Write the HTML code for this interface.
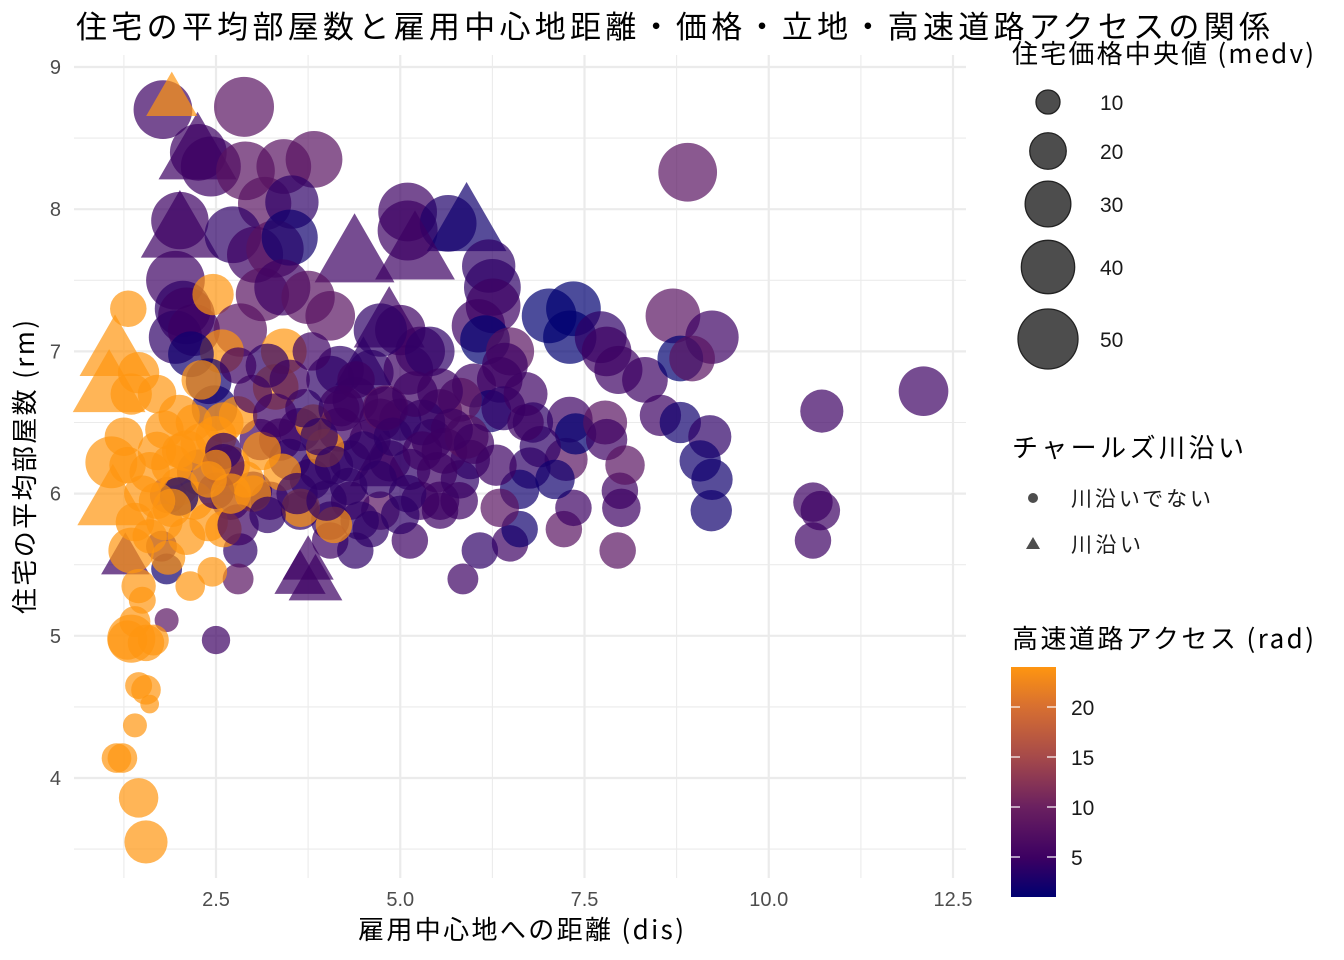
<!DOCTYPE html>
<html><head><meta charset="utf-8"><style>
body{margin:0;background:#fff;}
svg{display:block;font-family:"Liberation Sans","Noto Sans CJK JP",sans-serif;}
.cjk{font-family:"Noto Sans CJK JP","Liberation Sans",sans-serif;}
</style></head><body>
<svg id="chart" width="1344" height="960" viewBox="0 0 1344 960">
<g id="grid"></g>
<g id="marks"></g>
<g id="axes"></g>
<text class="cjk" x="76" y="38" font-size="31" textLength="1194" fill="#000">住宅の平均部屋数と雇用中心地距離・価格・立地・高速道路アクセスの関係</text>
<text class="cjk" x="521" y="939" font-size="26" text-anchor="middle" textLength="326" fill="#000">雇用中心地への距離 (dis)</text>
<text class="cjk" transform="translate(34,467) rotate(-90)" font-size="26" text-anchor="middle" textLength="294" fill="#000">住宅の平均部屋数 (rm)</text>
<g id="legend">
<text class="cjk" x="1012" y="63" font-size="26" textLength="302" fill="#000">住宅価格中央値 (medv)</text>
<text class="cjk" x="1012" y="457" font-size="26" textLength="232" fill="#000">チャールズ川沿い</text>
<circle cx="1033" cy="498" r="5" fill="#4d4d4d"/>
<text class="cjk" x="1071" y="506" font-size="21" textLength="140" fill="#1a1a1a">川沿いでない</text>
<polygon points="1033,537 1040,549 1026,549" fill="#4d4d4d"/>
<text class="cjk" x="1071" y="552" font-size="21" textLength="70" fill="#1a1a1a">川沿い</text>
<text class="cjk" x="1012" y="648" font-size="26" textLength="302" fill="#000">高速道路アクセス (rad)</text>
<defs><linearGradient id="cbar" x1="0" y1="1" x2="0" y2="0">
<stop offset="0" stop-color="#000070"/><stop offset="0.17" stop-color="#3c0062"/><stop offset="0.39" stop-color="#6a2060"/><stop offset="0.61" stop-color="#a64a4a"/><stop offset="0.83" stop-color="#d87030"/><stop offset="1" stop-color="#ff9510"/>
</linearGradient></defs>
<rect x="1011" y="667" width="45" height="230" fill="url(#cbar)"/>
<g id="cbticks"></g>
</g>
</svg>
<script>
const xTicks=[2.5,5.0,7.5,10.0,12.5];
const xTickLabels=["2.5","5.0","7.5","10.0","12.5"];
const yTicks=[4,5,6,7,8,9];
const sizeLegendValues=[10,20,30,40,50];
const colorTicks=[5,10,15,20];
// points: dis, rm, medv, rad, chas
const dis=[1.90,1.78,2.88,2.25,2.26,2.43,2.90,3.42,3.83,3.16,3.53,2.01,2.01,2.73,3.03,3.30,3.50,4.38,5.10,5.10,5.65,5.90,5.20,6.20,6.25,1.95,2.05,2.10,1.95,2.20,2.46,1.31,1.13,1.05,2.83,3.13,3.40,3.75,4.05,3.42,3.31,2.58,2.16,2.40,2.48,2.28,4.85,4.60,7.02,7.35,7.30,7.72,7.80,7.96,8.32,8.70,9.23,8.80,8.96,8.53,8.80,9.20,9.07,9.23,9.22,7.98,8.00,7.95,8.90,12.10,10.72,10.60,10.70,10.60,7.30,7.25,7.38,7.78,7.80,8.05,7.22,7.35,6.90,6.76,6.62,6.49,6.62,6.08,5.85,6.35,6.26,6.06,6.15,6.49,6.42,6.35,6.00,6.22,5.81,5.54,5.43,5.27,5.11,5.00,5.40,4.73,5.54,4.05,4.18,4.39,4.18,3.91,3.78,4.32,4.59,4.86,5.13,5.27,4.73,5.54,5.81,5.95,5.00,4.73,3.64,3.37,3.10,3.50,3.23,3.64,4.05,4.32,4.45,5.13,5.54,4.05,4.39,3.64,3.85,3.75,4.73,3.00,2.70,2.83,2.80,2.50,1.83,1.83,1.76,1.27,1.85,1.55,1.45,1.15,1.23,1.40,1.60,1.55,1.45,1.30,1.35,1.55,1.65,1.40,1.50,1.35,1.10,1.08,1.50,1.70,1.90,2.10,2.30,2.50,2.70,2.90,2.00,2.20,2.40,2.60,1.80,1.60,1.45,1.85,2.45,2.15,3.12,3.40,3.65,4.10,3.82,3.98,1.25,1.35,1.45,1.70,2.30,2.00,2.60,1.80,2.80,3.00,1.30,2.50,2.00,2.80,4.80,5.30,5.60,6.40,6.70,4.50,4.20,3.20,2.60,5.90,6.80,7.10,
3.7,3.9,4.1,4.3,4.5,4.7,4.9,5.1,5.3,5.5,5.7,4.2,4.4,4.0,3.6,3.3,3.0,2.8,2.6,3.2,4.6,5.0,5.8,6.0,6.3,4.8,5.2,3.5,3.8,6.7,
1.6,1.9,2.2,2.4,2.1,1.7,2.7,1.4,2.5,2.0,1.75,1.55];
const rm=[8.78,8.70,8.72,8.40,8.40,8.30,8.27,8.30,8.35,8.04,8.05,7.92,7.85,7.82,7.68,7.72,7.80,7.68,7.98,7.85,7.90,7.90,7.70,7.60,7.45,7.50,7.30,7.25,7.10,7.15,7.40,7.30,7.00,6.75,7.15,7.40,7.45,7.38,7.25,7.00,6.75,7.00,6.98,6.79,6.60,6.15,7.20,6.85,7.25,7.30,7.10,7.10,7.00,6.87,6.80,7.25,7.10,6.95,6.95,6.55,6.50,6.40,6.23,6.10,5.88,6.02,5.90,5.60,8.26,6.72,6.58,5.94,5.88,5.67,6.52,6.24,6.42,6.50,6.38,6.20,5.75,5.90,6.33,6.18,6.03,5.65,5.75,5.60,5.40,5.90,7.32,7.18,7.08,7.00,6.90,6.80,6.76,6.58,6.66,6.58,6.38,7.00,6.87,7.15,7.00,7.15,6.72,6.80,6.87,6.66,6.45,6.17,6.10,6.23,6.38,6.23,6.17,5.95,5.88,5.95,6.10,6.24,6.52,6.52,6.45,6.38,6.38,6.24,5.95,5.88,5.81,5.95,5.81,5.67,5.88,5.67,5.60,5.42,5.38,5.52,6.20,6.02,5.95,5.60,5.40,4.97,5.47,5.11,5.63,5.55,5.99,3.55,3.86,4.14,4.14,4.37,4.52,4.62,4.65,4.97,4.98,4.95,4.97,5.10,5.25,5.60,5.95,6.22,6.00,6.30,6.20,6.30,6.35,6.40,6.20,6.10,6.05,5.95,5.80,5.75,5.80,5.70,5.35,5.55,5.45,5.35,6.30,6.15,5.90,5.78,6.50,6.32,6.40,6.70,6.85,6.70,6.80,6.55,6.50,6.45,6.55,6.00,6.20,6.02,5.98,5.78,6.60,6.50,6.30,6.60,6.70,6.90,6.60,6.90,6.20,6.40,6.50,6.10,
6.6,6.4,6.2,6.05,6.3,6.1,6.4,6.0,6.3,6.15,6.45,6.6,6.8,5.95,6.0,6.55,6.7,6.9,6.3,5.85,5.75,5.85,5.95,6.35,6.2,6.6,6.7,6.8,7.0,6.5,
6.15,5.9,6.5,6.1,5.7,5.95,6.0,5.8,6.2,6.3,5.3,5.05];
const medv=[22,48,50,48,45,50,48,42,45,40,40,46,48,45,44,46,44,50,48,50,45,50,50,40,45,48,44,45,40,38,25,20,40,42,40,40,44,40,35,30,30,28,30,30,30,30,40,30,42,42,40,38,35,33,30,42,40,30,30,25,25,27,25,25,25,20,22,20,48,35,27,23,23,20,30,27,25,28,25,23,20,20,25,25,23,20,20,20,15,22,42,40,35,33,30,30,28,26,28,28,25,35,35,36,35,40,30,33,33,30,28,25,25,25,25,25,25,22,22,22,22,23,26,26,27,26,25,25,22,22,22,22,22,20,20,20,20,22,24,22,30,22,22,18,15,13,15,10,15,20,20,27,23,14,14,10,7,14,12,23,33,20,15,15,12,30,40,38,20,22,25,25,25,25,22,20,22,22,22,20,20,18,18,18,14,14,22,21,22,20,20,22,22,25,25,22,23,25,24,22,22,20,20,20,22,25,30,30,30,28,28,26,30,28,26,28,
24,23,22,21,22,21,23,21,22,21,23,24,26,20,21,24,25,28,22,20,20,20,20,22,21,24,25,27,30,24,
22,20,24,22,20,20,21,20,24,22,15,18];
const rad=[24,5,8,5,5,5,8,8,8,8,4,5,5,4,5,8,2,5,5,5,3,2,5,4,4,5,4,5,4,5,24,24,24,24,8,8,5,8,8,24,24,24,2,2,2,4,5,4,1,1,1,4,5,5,5,8,5,1,8,5,2,4,2,2,2,5,5,8,8,5,5,5,5,5,5,8,1,8,5,8,8,5,4,4,2,5,2,4,5,8,5,5,1,8,5,5,5,2,8,8,5,5,5,5,4,4,5,4,4,4,5,4,4,4,5,5,4,5,8,5,4,4,4,5,4,5,5,4,5,4,4,5,4,5,5,5,4,5,5,5,5,4,5,4,8,5,2,8,4,5,8,24,24,24,24,24,24,24,24,24,24,24,24,24,24,24,24,24,24,24,24,24,24,24,24,24,24,24,24,24,24,24,24,24,24,24,24,24,24,24,24,24,24,24,24,24,24,24,24,24,24,24,24,4,2,5,8,4,5,4,5,4,5,4,5,8,4,2,
4,4,4,4,4,4,4,4,5,5,5,5,5,4,4,5,5,5,4,4,4,4,5,5,5,5,5,5,5,5,
24,24,24,24,24,24,24,24,24,24,24,24];
const chas=[1,0,0,1,0,0,0,0,0,0,0,0,1,0,0,0,0,1,0,0,0,1,1,0,0,0,0,0,0,0,0,0,1,1,0,0,0,0,0,0,0,0,0,0,0,0,1,0,0,0,0,0,0,0,0,0,0,0,0,0,0,0,0,0,0,0,0,0,0,0,0,0,0,0,0,0,0,0,0,0,0,0,0,0,0,0,0,0,0,0,0,0,0,0,0,0,0,0,0,0,0,0,0,0,0,0,0,0,0,0,0,0,0,0,0,0,0,0,0,0,0,0,0,0,0,0,0,0,0,0,0,0,0,0,0,0,0,1,1,1,1,0,0,0,0,0,0,0,0,1,0,0,0,0,0,0,0,0,0,0,0,0,0,0,0,0,1,0,0,0,0,0,0,0,0,0,0,0,0,0,0,0,0,0,0,0,0,0,0,0,0,0,0,0,0,0,0,0,0,0,0,0,0,0,0,0,0,0,0,0,0,1,0,0,0,0,0,0,
0,0,0,0,0,0,0,0,0,0,0,0,0,0,0,0,0,0,0,0,0,0,0,0,0,0,0,0,0,0,
0,0,0,0,0,0,0,0,0,0,0,0];

const NS="http://www.w3.org/2000/svg";
const px0=74, px1=966, py0=55, py1=878;
function xs(v){return 31.75+v*73.7;}
function ys(v){return 67+(9-v)*142.2;}
function dia(v){return Math.sqrt(Math.max(0,198+3402*(v-5)/45));}
const cstops=[[1,[0,0,112]],[5,[60,0,98]],[10,[106,32,96]],[15,[166,74,74]],[20,[216,112,48]],[24,[255,149,16]]];
function col(r){
  for(let i=0;i<cstops.length-1;i++){
    const a=cstops[i],b=cstops[i+1];
    if(r<=b[0]){const t=Math.max(0,(r-a[0])/(b[0]-a[0]));
      return 'rgb('+a[1].map((c,k)=>Math.round(c+(b[1][k]-c)*t)).join(',')+')';}
  }
  return 'rgb(255,149,16)';
}
const grid=document.getElementById('grid');
function line(x1,y1,x2,y2,w){const l=document.createElementNS(NS,'line');
  l.setAttribute('x1',x1);l.setAttribute('y1',y1);l.setAttribute('x2',x2);l.setAttribute('y2',y2);
  l.setAttribute('stroke','#ebebeb');l.setAttribute('stroke-width',w);
  
  
  grid.appendChild(l);}
for(let i=0;i<xTicks.length;i++){line(xs(xTicks[i]),py0,xs(xTicks[i]),py1,2.2);line(xs(xTicks[i]-1.25),py0,xs(xTicks[i]-1.25),py1,1.1);}
for(let i=0;i<yTicks.length;i++){line(px0,ys(yTicks[i]),px1,ys(yTicks[i]),2.2);line(px0,ys(yTicks[i]-0.5),px1,ys(yTicks[i]-0.5),1.1);}
const axes=document.getElementById('axes');
xTicks.forEach((v,i)=>{const t=document.createElementNS(NS,'text');
  t.setAttribute('x',xs(v));t.setAttribute('y',906);t.setAttribute('font-size','20');t.setAttribute('fill','#4d4d4d');t.setAttribute('text-anchor','middle');
  t.textContent=xTickLabels[i];
  
  
  axes.appendChild(t);});
yTicks.forEach(v=>{const t=document.createElementNS(NS,'text');
  t.setAttribute('x',61);t.setAttribute('y',ys(v)+7);t.setAttribute('font-size','20');t.setAttribute('fill','#4d4d4d');t.setAttribute('text-anchor','end');
  t.textContent=String(v);
  
  
  axes.appendChild(t);});
const marks=document.getElementById('marks');
const n=Math.min(dis.length,rm.length,medv.length,rad.length,chas.length);
const order=[];
for(let i=1;i<n;i++)order.push(i);
order.push(0);
order.forEach(i=>{
  const cx=xs(dis[i]),cy=ys(rm[i]),d=dia(medv[i]);let el;
  if(chas[i]){const s=d*1.33,h=s*0.866;
    el=document.createElementNS(NS,'polygon');
    el.setAttribute('points',cx+','+(cy-h*0.6)+' '+(cx+s/2)+','+(cy+h*0.4)+' '+(cx-s/2)+','+(cy+h*0.4));
    
  } else {el=document.createElementNS(NS,'circle');
    el.setAttribute('cx',cx);el.setAttribute('cy',cy);el.setAttribute('r',d/2);
    }
  el.setAttribute('fill',col(rad[i]));el.setAttribute('fill-opacity','0.7');
  
  marks.appendChild(el);
});
const lg=document.getElementById('legend');
const lgY=[102,151,204,267,339];
sizeLegendValues.forEach((v,i)=>{const c=document.createElementNS(NS,'circle');
  c.setAttribute('cx',1048);c.setAttribute('cy',lgY[i]);c.setAttribute('r',dia(v)/2);
  c.setAttribute('fill','#4d4d4d');c.setAttribute('stroke','#222');c.setAttribute('stroke-width','1.3');
  
  
  lg.appendChild(c);
  const t=document.createElementNS(NS,'text');
  t.setAttribute('x',1100);t.setAttribute('y',lgY[i]+8);t.setAttribute('font-size','21');t.setAttribute('fill','#1a1a1a');
  t.textContent=String(v);
  
  
  lg.appendChild(t);});
const cb=document.getElementById('cbticks');
function cby(v){return 897-(v-1)/23*230;}
colorTicks.forEach(v=>{const y=cby(v);
  [[1011,1020],[1047,1056]].forEach(p=>{const l=document.createElementNS(NS,'line');
    l.setAttribute('x1',p[0]);l.setAttribute('x2',p[1]);l.setAttribute('y1',y);l.setAttribute('y2',y);
    l.setAttribute('stroke','#fff');l.setAttribute('stroke-width','1.2');
    
    
    cb.appendChild(l);});
  const t=document.createElementNS(NS,'text');
  t.setAttribute('x',1071);t.setAttribute('y',y+8);t.setAttribute('font-size','21');t.setAttribute('fill','#1a1a1a');
  t.textContent=String(v);
  
  
  cb.appendChild(t);});
</script>
</body></html>
